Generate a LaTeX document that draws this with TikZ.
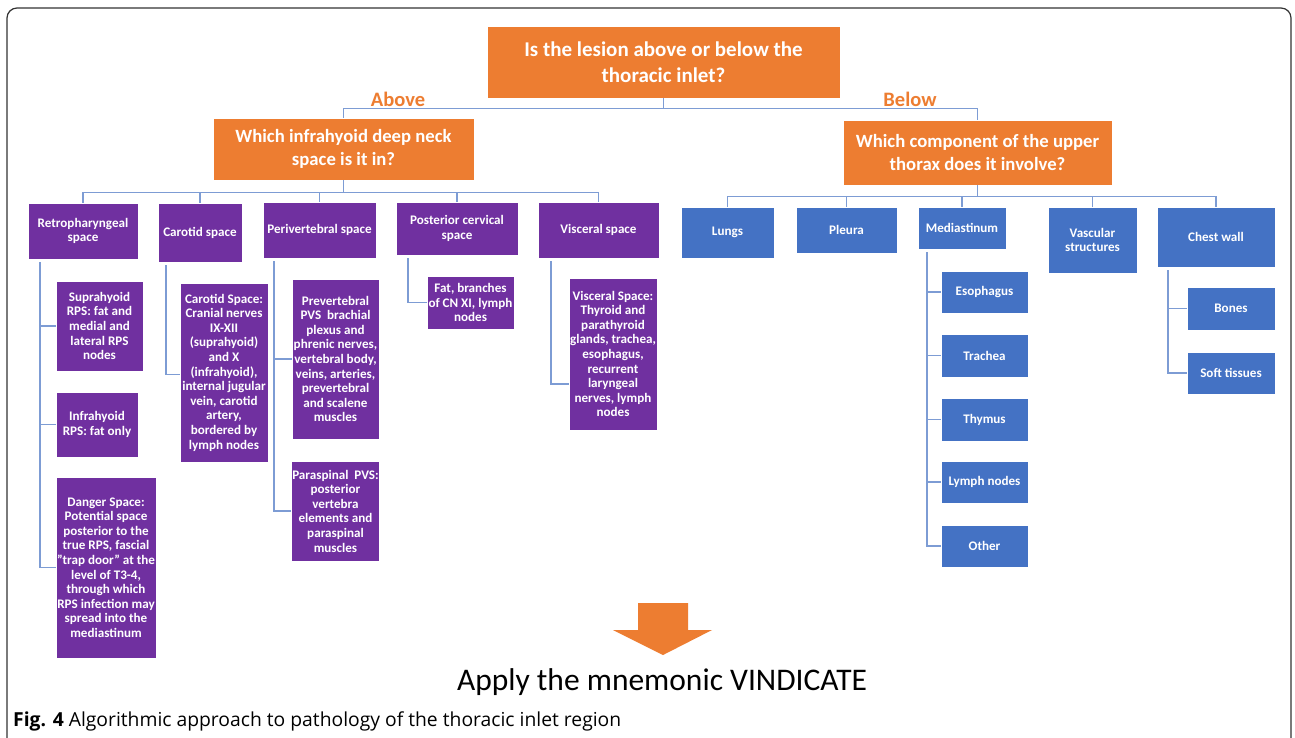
\documentclass[tikz,border=0pt]{standalone}
\usepackage{fontspec}
\setmainfont{Carlito}
\newfontfamily\capfont{Open Sans}
\usetikzlibrary{calc}
\definecolor{orng}{HTML}{ED7D31}
\definecolor{purp}{HTML}{7030A0}
\definecolor{blu}{HTML}{4472C4}
\definecolor{connc}{HTML}{7D9CD4}
\definecolor{framec}{HTML}{333333}
\tikzset{
  cbox/.style={draw=white, line width=0.6pt, inner sep=1pt, align=center, text=white,
    font=\bfseries\fontsize{13.1}{14.6}\selectfont},
  orbox/.style={cbox, fill=orng, font=\bfseries\fontsize{21}{26}\selectfont},
  orboxs/.style={cbox, fill=orng, font=\bfseries\fontsize{18.7}{23}\selectfont},
  pubox/.style={cbox, fill=purp},
  blbox/.style={cbox, fill=blu},
  link/.style={draw=connc, line width=1.6pt},
  lbl/.style={text=orng, font=\bfseries\fontsize{20.5}{23}\selectfont, inner sep=0pt},
}
\newcommand\R[7]{\node[#2, minimum width={#5-#3}, minimum height={#6-#4}] (#1) at ({(#3+#5)/2},{(#4+#6)/2}) {#7};}
\begin{document}
\begin{tikzpicture}[x=1pt,y=-1pt]
\useasboundingbox (0,0) rectangle (1295,737);
\fill[white] (0,0) rectangle (1295,737);
\draw[framec, line width=1.2pt, rounded corners=10pt] (7,770) -- (7,8) -- (1291,8) -- (1291,770);

% question boxes
\R{top}{orbox}{487}{26}{840}{98}{Is the lesion above or below the\\thoracic inlet?}
\R{lq}{orboxs}{213}{118}{474}{180}{Which infrahyoid deep neck\\space is it in?}
\R{rq}{orboxs}{843}{120}{1112}{185}{Which component of the upper\\thorax does it involve?}
\node[lbl] (above) at (398,99) {Above};
\node[lbl] (below) at (910,99) {Below};

% purple level 1
\R{retro}{pubox}{28}{203}{138}{259}{Retropharyngeal\\space}
\R{carot}{pubox}{158}{203}{242}{262}{Carotid space}
\R{peri}{pubox}{263}{202}{376}{258}{Perivertebral space}
\R{post}{pubox}{396}{202}{518}{255}{Posterior cervical\\space}
\R{visc}{pubox}{538}{202}{659}{258}{Visceral space}

% purple level 2
\R{supra}{pubox}{56}{281}{143}{371}{Suprahyoid\\RPS: fat and\\medial and\\lateral RPS\\nodes}
\R{infra}{pubox}{56}{392}{138}{457}{Infrahyoid\\RPS: fat only}
\R{danger}{pubox}{56}{477}{156}{658}{Danger Space:\\Potential space\\posterior to the\\true RPS, fascial\\"trap door" at the\\level of T3-4,\\through which\\RPS infection may\\spread into the\\mediastinum}
\R{carot2}{pubox}{180}{283}{268}{462}{Carotid Space:\\Cranial nerves\\IX-XII\\(suprahyoid)\\and X\\(infrahyoid),\\internal jugular\\vein, carotid\\artery,\\bordered by\\lymph nodes}
\R{prev}{pubox}{292}{279}{379}{439}{Prevertebral\\PVS\ \ brachial\\plexus and\\phrenic nerves,\\vertebral body,\\veins, arteries,\\prevertebral\\and scalene\\muscles}
\R{para}{pubox}{292}{461}{379}{561}{Paraspinal\ \ PVS:\\posterior\\vertebra\\elements and\\paraspinal\\muscles}
\R{fat}{pubox}{427}{276}{514}{329}{Fat, branches\\of CN XI, lymph\\nodes}
\R{visc2}{pubox}{569}{278}{657}{430}{Visceral Space:\\Thyroid and\\parathyroid\\glands, trachea,\\esophagus,\\recurrent\\laryngeal\\nerves, lymph\\nodes}

% blue boxes
\R{lungs}{blbox}{681}{207}{774}{258}{Lungs}
\R{pleura}{blbox}{796}{207}{897}{253}{Pleura}
\R{med}{blbox}{918}{207}{1006}{249}{Mediastinum}
\R{vasc}{blbox}{1048}{207}{1137}{273}{Vascular\\structures}
\R{chest}{blbox}{1157}{207}{1275}{267}{Chest wall}
\R{eso}{blbox}{941}{271}{1028}{313}{Esophagus}
\R{tra}{blbox}{941}{334}{1028}{377}{Trachea}
\R{thy}{blbox}{941}{398}{1028}{441}{Thymus}
\R{lym}{blbox}{941}{461}{1028}{503}{Lymph nodes}
\R{oth}{blbox}{941}{525}{1028}{567}{Other}
\R{bones}{blbox}{1187}{287}{1275}{330}{Bones}
\R{soft}{blbox}{1187}{352}{1275}{394}{Soft tissues}

% connectors
\draw[link] (top.south) -- ++(0,10) -| (lq.north);
\draw[link] (top.south) -- ++(0,10) -| (rq.north);
\foreach \c in {retro,carot,peri,post,visc} \draw[link] (lq.south) -- ++(0,12) -| (\c.north);
\foreach \c in {lungs,pleura,med,vasc,chest} \draw[link] (rq.south) -- ++(0,11) -| (\c.north);
\foreach \c in {supra,infra,danger} \draw[link] ($(retro.south west)+(12,3)$) |- (\c.west);
\draw[link] ($(carot.south west)+(8,3)$) |- ($(carot2.west)+(0,2)$);
\foreach \c in {prev,para} \draw[link] ($(peri.south west)+(11,3)$) |- (\c.west);
\draw[link] ($(post.south west)+(12,3)$) |- (fat.west);
\draw[link] ($(visc.south west)+(13,3)$) |- ($(visc2.west)+(0,30)$);
\foreach \c in {eso,tra,thy,lym,oth} \draw[link] ($(med.south west)+(9,3)$) |- (\c.west);
\foreach \c in {bones,soft} \draw[link] ($(chest.south west)+(11,3)$) |- (\c.west);

% bottom arrow and text
\fill[orng] (638,603) -- (688,603) -- (688,630) -- (712,630) -- (663,655) -- (613,630) -- (638,630) -- cycle;
\node[anchor=base, inner sep=0pt, font=\fontsize{31.5}{36}\selectfont] (apply) at (662,690) {Apply the mnemonic VINDICATE};
\node[anchor=base west, inner sep=0pt, font=\capfont\fontsize{19.3}{22}\selectfont] (cap) at (13,726) {\textbf{Fig. 4} Algorithmic approach to pathology of the thoracic inlet region};
\end{tikzpicture}
\end{document}
